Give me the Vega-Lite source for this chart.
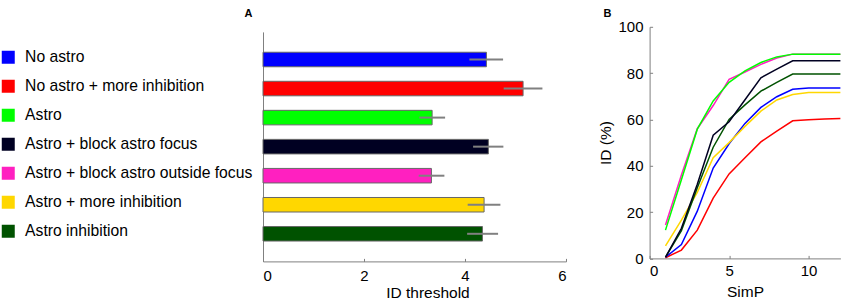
{
  "$schema": "https://vega.github.io/schema/vega-lite/v6.json",
  "padding": {"left": 0, "top": 7.8, "right": 0, "bottom": 0},
  "background": "white",
  "bounds": "flush",
  "spacing": 83.6,
  "config": {
    "font": "Liberation Sans",
    "view": {"stroke": null},
    "axis": {"domainColor": "#808080", "tickColor": "#808080", "labelColor": "black", "titleColor": "black", "labelFontSize": 15, "titleFontSize": 15.5, "titleFontWeight": "normal", "grid": false, "tickSize": -3, "labelFont": "Liberation Sans", "titleFont": "Liberation Sans"},
    "title": {"fontSize": 11, "fontWeight": "bold", "anchor": "start", "frame": "group", "color": "black"}
  },
  "resolve": {"scale": {"color": "independent"}, "legend": {"color": "independent"}},
  "datasets": {
    "bars": [
      {"cond": "No astro", "value": 4.424, "lo": 4.087, "hi": 4.754},
      {"cond": "No astro + more inhibition", "value": 5.15, "lo": 4.766, "hi": 5.533},
      {"cond": "Astro", "value": 3.349, "lo": 3.097, "hi": 3.606},
      {"cond": "Astro + block astro focus", "value": 4.463, "lo": 4.16, "hi": 4.76},
      {"cond": "Astro + block astro outside focus", "value": 3.335, "lo": 3.083, "hi": 3.592},
      {"cond": "Astro + more inhibition", "value": 4.378, "lo": 4.053, "hi": 4.701},
      {"cond": "Astro inhibition", "value": 4.345, "lo": 4.042, "hi": 4.655}
    ],
    "lines": [
      {"cond": "No astro + more inhibition", "simp": 1, "id": 0.3},
      {"cond": "No astro + more inhibition", "simp": 2, "id": 3.6},
      {"cond": "No astro + more inhibition", "simp": 3, "id": 12.2},
      {"cond": "No astro + more inhibition", "simp": 4, "id": 26},
      {"cond": "No astro + more inhibition", "simp": 5, "id": 36.5},
      {"cond": "No astro + more inhibition", "simp": 6, "id": 43.5},
      {"cond": "No astro + more inhibition", "simp": 7, "id": 50.3},
      {"cond": "No astro + more inhibition", "simp": 8, "id": 55},
      {"cond": "No astro + more inhibition", "simp": 9, "id": 59.4},
      {"cond": "No astro + more inhibition", "simp": 10, "id": 59.9},
      {"cond": "No astro + more inhibition", "simp": 11, "id": 60.2},
      {"cond": "No astro + more inhibition", "simp": 12, "id": 60.4},
      {"cond": "No astro", "simp": 1, "id": 0.5},
      {"cond": "No astro", "simp": 2, "id": 6},
      {"cond": "No astro", "simp": 3, "id": 20.4},
      {"cond": "No astro", "simp": 4, "id": 39},
      {"cond": "No astro", "simp": 5, "id": 49.5},
      {"cond": "No astro", "simp": 6, "id": 58.3},
      {"cond": "No astro", "simp": 7, "id": 65.2},
      {"cond": "No astro", "simp": 8, "id": 69.8},
      {"cond": "No astro", "simp": 9, "id": 73},
      {"cond": "No astro", "simp": 10, "id": 73.6},
      {"cond": "No astro", "simp": 11, "id": 73.6},
      {"cond": "No astro", "simp": 12, "id": 73.6},
      {"cond": "Astro + more inhibition", "simp": 1, "id": 5.4},
      {"cond": "Astro + more inhibition", "simp": 2, "id": 16.5},
      {"cond": "Astro + more inhibition", "simp": 3, "id": 28.5},
      {"cond": "Astro + more inhibition", "simp": 4, "id": 43.5},
      {"cond": "Astro + more inhibition", "simp": 5, "id": 50},
      {"cond": "Astro + more inhibition", "simp": 6, "id": 57},
      {"cond": "Astro + more inhibition", "simp": 7, "id": 63.6},
      {"cond": "Astro + more inhibition", "simp": 8, "id": 68.4},
      {"cond": "Astro + more inhibition", "simp": 9, "id": 70.8},
      {"cond": "Astro + more inhibition", "simp": 10, "id": 71.6},
      {"cond": "Astro + more inhibition", "simp": 11, "id": 71.6},
      {"cond": "Astro + more inhibition", "simp": 12, "id": 71.6},
      {"cond": "Astro inhibition", "simp": 1, "id": 0.5},
      {"cond": "Astro inhibition", "simp": 2, "id": 12},
      {"cond": "Astro inhibition", "simp": 3, "id": 30.5},
      {"cond": "Astro inhibition", "simp": 4, "id": 48},
      {"cond": "Astro inhibition", "simp": 5, "id": 60},
      {"cond": "Astro inhibition", "simp": 6, "id": 66.3},
      {"cond": "Astro inhibition", "simp": 7, "id": 72.2},
      {"cond": "Astro inhibition", "simp": 8, "id": 76},
      {"cond": "Astro inhibition", "simp": 9, "id": 79.6},
      {"cond": "Astro inhibition", "simp": 10, "id": 79.6},
      {"cond": "Astro inhibition", "simp": 11, "id": 79.6},
      {"cond": "Astro inhibition", "simp": 12, "id": 79.6},
      {"cond": "Astro + block astro focus", "simp": 1, "id": 0.5},
      {"cond": "Astro + block astro focus", "simp": 2, "id": 13},
      {"cond": "Astro + block astro focus", "simp": 3, "id": 32},
      {"cond": "Astro + block astro focus", "simp": 4, "id": 53.2},
      {"cond": "Astro + block astro focus", "simp": 5, "id": 59},
      {"cond": "Astro + block astro focus", "simp": 6, "id": 68.5},
      {"cond": "Astro + block astro focus", "simp": 7, "id": 78},
      {"cond": "Astro + block astro focus", "simp": 8, "id": 81.7},
      {"cond": "Astro + block astro focus", "simp": 9, "id": 85.3},
      {"cond": "Astro + block astro focus", "simp": 10, "id": 85.3},
      {"cond": "Astro + block astro focus", "simp": 11, "id": 85.3},
      {"cond": "Astro + block astro focus", "simp": 12, "id": 85.3},
      {"cond": "Astro + block astro outside focus", "simp": 1, "id": 14.4},
      {"cond": "Astro + block astro outside focus", "simp": 2, "id": 36},
      {"cond": "Astro + block astro outside focus", "simp": 3, "id": 56},
      {"cond": "Astro + block astro outside focus", "simp": 4, "id": 66},
      {"cond": "Astro + block astro outside focus", "simp": 5, "id": 77.3},
      {"cond": "Astro + block astro outside focus", "simp": 6, "id": 80.5},
      {"cond": "Astro + block astro outside focus", "simp": 7, "id": 83.8},
      {"cond": "Astro + block astro outside focus", "simp": 8, "id": 86.5},
      {"cond": "Astro + block astro outside focus", "simp": 9, "id": 88.2},
      {"cond": "Astro + block astro outside focus", "simp": 10, "id": 88.2},
      {"cond": "Astro + block astro outside focus", "simp": 11, "id": 88.2},
      {"cond": "Astro + block astro outside focus", "simp": 12, "id": 88.2},
      {"cond": "Astro", "simp": 1, "id": 12.2},
      {"cond": "Astro", "simp": 2, "id": 34},
      {"cond": "Astro", "simp": 3, "id": 55.8},
      {"cond": "Astro", "simp": 4, "id": 68},
      {"cond": "Astro", "simp": 5, "id": 76},
      {"cond": "Astro", "simp": 6, "id": 81},
      {"cond": "Astro", "simp": 7, "id": 84.6},
      {"cond": "Astro", "simp": 8, "id": 87},
      {"cond": "Astro", "simp": 9, "id": 88.2},
      {"cond": "Astro", "simp": 10, "id": 88.2},
      {"cond": "Astro", "simp": 11, "id": 88.2},
      {"cond": "Astro", "simp": 12, "id": 88.2}
    ]
  },
  "hconcat": [
    {
      "title": {"text": "A", "dx": -18.5, "offset": 7.5},
      "width": 303,
      "height": 234.6,
      "data": {"name": "bars"},
      "layer": [
        {
          "mark": {"type": "bar", "stroke": "#666666", "strokeWidth": 1},
          "encoding": {
            "y": {"field": "cond", "type": "nominal", "sort": null, "scale": {"range": [5.1, 234.6], "paddingInner": 0.5, "paddingOuter": 0.7}, "axis": {"labels": false, "ticks": false, "title": null}},
            "x": {"field": "value", "type": "quantitative", "scale": {"domain": [0, 6], "nice": false}, "axis": {"values": [0, 2, 4, 6], "title": "ID threshold", "labelPadding": 10.5, "titleBaseline": "alphabetic", "titleY": 36.2, "titleX": 164.5}},
            "color": {
              "field": "cond", "type": "nominal", "sort": null,
              "scale": {
                "domain": ["No astro", "No astro + more inhibition", "Astro", "Astro + block astro focus", "Astro + block astro outside focus", "Astro + more inhibition", "Astro inhibition"],
                "range": ["#0000ff", "#ff0000", "#00ff00", "#000022", "#ff20c0", "#ffd700", "#005200"]
              },
              "legend": {"orient": "none", "legendX": -262.6, "legendY": 22.6, "title": null, "symbolType": "square", "symbolSize": 169, "symbolStrokeWidth": 0, "labelFontSize": 15.7, "labelLimit": 400, "labelOffset": 9, "rowPadding": 12, "labelColor": "black", "padding": 0, "labelFont": "Liberation Sans"}
            }
          }
        },
        {
          "mark": {"type": "rule", "color": "#808080", "strokeWidth": 2},
          "encoding": {
            "y": {"field": "cond", "type": "nominal", "sort": null},
            "x": {"field": "lo", "type": "quantitative"},
            "x2": {"field": "hi"}
          }
        }
      ]
    },
    {
      "title": {"text": "B", "dx": -46, "offset": 0.7},
      "width": 190.8,
      "height": 231.6,
      "data": {"name": "lines"},
      "mark": {"type": "line", "strokeWidth": 1.5},
      "encoding": {
        "x": {"field": "simp", "type": "quantitative", "scale": {"domain": [0, 12], "nice": false}, "axis": {"values": [0, 5, 10], "title": "SimP", "labelPadding": 8.5, "titleBaseline": "alphabetic", "titleY": 38.4}},
        "y": {"field": "id", "type": "quantitative", "scale": {"domain": [0, 100], "nice": false}, "axis": {"values": [0, 20, 40, 60, 80, 100], "title": "ID (%)", "labelPadding": 9.6, "titlePadding": 4}},
        "color": {
          "field": "cond", "type": "nominal", "sort": null,
          "scale": {
            "domain": ["No astro", "No astro + more inhibition", "Astro", "Astro + block astro focus", "Astro + block astro outside focus", "Astro + more inhibition", "Astro inhibition"],
            "range": ["#0000ff", "#ff0000", "#00ff00", "#000022", "#ff20c0", "#ffd700", "#005200"]
          },
          "legend": null
        }
      }
    }
  ]
}
